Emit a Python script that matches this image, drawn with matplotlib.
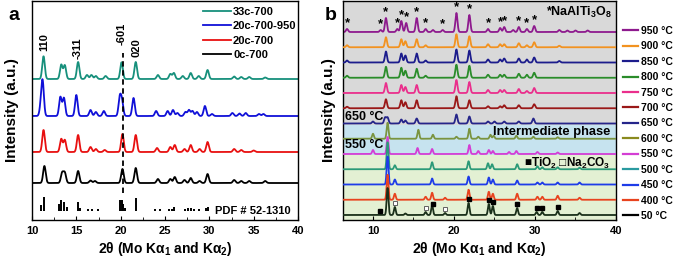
import numpy as np
import matplotlib
matplotlib.use("Agg")
import matplotlib.pyplot as plt
from matplotlib.ticker import MultipleLocator

plt.rcParams["font.family"] = ["Liberation Sans", "DejaVu Sans"]
plt.rcParams["font.weight"] = "bold"
plt.rcParams["axes.labelweight"] = "bold"
plt.rcParams["mathtext.fontset"] = "custom"
plt.rcParams["mathtext.rm"] = "Liberation Sans:bold"
plt.rcParams["mathtext.bf"] = "Liberation Sans:bold"
plt.rcParams["mathtext.it"] = "Liberation Sans:bold"
plt.rcParams["axes.linewidth"] = 1.0

# ---- panel a : peaks (2theta, height) ----
labels_a = ["33c-700", "20c-700-950", "20c-700", "0c-700"]
colors_a = ["#17907c", "#1010d8", "#e81010", "#000000"]
offsets_a = [141, 104, 68, 37]

peaks_33c = [(11.3, 22.7), (13.3, 14.3), (13.7, 13.7), (15.2, 17), (16.2, 4), (16.7, 4),
             (17.2, 3), (18.3, 3), (20.1, 16.7), (21.7, 17), (24.2, 4), (25.6, 5), (26.0, 6),
             (27.0, 3), (27.9, 6), (28.8, 3), (29.8, 9), (32.8, 2.5), (33.6, 2), (34.5, 2),
             (36.3, 1.5)]
peaks_20c950 = [(11.0, 9), (11.2, 33), (13.2, 19), (13.6, 18), (15.0, 21), (16.6, 6), (17.2, 4),
                (18.1, 5), (19.9, 18), (20.15, 14), (21.45, 18), (24.0, 5), (25.3, 5), (25.9, 6),
                (26.4, 3), (27.3, 4), (27.7, 6), (28.1, 5), (28.6, 4), (29.5, 10), (30.3, 2),
                (32.6, 3), (33.4, 2.5), (34.1, 3), (35.6, 2), (36.1, 2)]
peaks_20c = [(11.3, 22), (13.3, 13), (13.7, 12), (15.2, 17), (16.6, 5), (17.2, 3), (18.2, 2),
             (20.2, 18), (21.7, 17), (24.1, 4), (25.6, 5), (26.1, 7), (27.2, 3), (27.9, 7),
             (28.9, 3), (29.8, 10), (32.8, 3), (33.6, 2), (35.0, 1.5)]
peaks_0c = [(11.4, 17), (13.4, 10), (13.7, 10), (15.2, 12), (16.6, 2.5), (17.1, 2), (20.2, 14),
            (21.7, 15), (24.2, 4), (25.6, 4), (26.1, 6), (27.2, 3), (27.9, 5), (28.9, 2),
            (29.8, 9), (32.8, 3), (33.6, 2), (34.5, 2), (36.3, 2)]

# PDF # 52-1310 reference sticks
pdf_pos = [11.0, 11.3, 13.1, 13.3, 13.6, 13.9, 15.2, 15.4, 16.3, 16.8, 17.4, 19.9, 20.1, 20.3,
           20.5, 21.7, 23.9, 24.4, 25.5, 25.8, 26.0, 27.2, 27.6, 27.9, 28.3, 28.8, 29.6, 29.8]
pdf_hgt = [6, 14, 7, 11, 9, 4, 9, 3, 2.5, 2.5, 2.5, 11, 11, 7, 3, 13, 2.5, 2.5, 2, 2.5, 4, 2.5,
           3.5, 3.5, 2.5, 2, 3.5, 4]

hkl_text = ["110", "-311", "-601", "020"]
hkl_x = [11.4, 15.15, 20.1, 21.75]
hkl_y = [178, 172, 186, 172.5]

# ---- panel b : in-situ temperatures ----
temps_b = ["950 °C", "900 °C", "850 °C", "800 °C", "750 °C", "700 °C", "650 °C",
           "600 °C", "550 °C", "500 °C", "450 °C", "400 °C", "50 °C"]
colors_b = ["#8e1a8e", "#f29220", "#1c1c8c", "#2a8c2a", "#ea2f8c", "#9a1818", "#25258a",
            "#7a9440", "#d43ed4", "#2b9a78", "#1e3ce8", "#e8431e", "#1a301a"]
legend_colors_b = colors_b[:7] + ["#8a8a1e", "#d43ed4", "#2a9aa0", "#1e3ce8", "#e8431e", "#000000"]

p950 = [(6.8, 3), (10.95, 2), (11.6, 14), (13.0, 3), (13.5, 11), (14.1, 9), (15.4, 14), (16.5, 3),
        (17.4, 2), (18.6, 2), (20.3, 19), (21.9, 17), (24.2, 3), (25.7, 4), (26.2, 5), (27.3, 2),
        (28.0, 5), (29.0, 3), (29.9, 6), (33.0, 2), (34.0, 1.5), (35.0, 1.5), (36.5, 1.5)]
p900 = [(6.8, 2), (11.6, 10), (13.5, 8), (14.0, 6), (15.4, 8), (16.5, 2), (20.3, 13), (21.9, 11),
        (24.2, 3), (25.7, 3), (26.2, 3), (28.0, 4), (29.0, 2), (29.9, 5), (33.0, 1.5)]
p850 = [(6.8, 2), (11.6, 11), (13.5, 9), (14.0, 7), (15.4, 9), (16.5, 2), (20.3, 13), (21.9, 12),
        (24.2, 3), (25.7, 3), (26.2, 4), (28.0, 4), (29.0, 3), (29.9, 5), (33.0, 1.5)]
p800 = [(6.8, 2), (11.6, 11), (13.5, 10), (14.0, 7), (15.4, 9), (16.5, 2), (20.3, 13), (21.9, 12),
        (24.2, 3), (25.7, 3), (26.2, 3), (28.0, 4), (29.0, 3), (29.9, 5)]
p750 = [(11.6, 10), (13.5, 8), (14.0, 6), (15.4, 8), (20.3, 13), (21.9, 11), (24.2, 3), (25.7, 3),
        (26.2, 3), (28.0, 4), (29.0, 2), (29.9, 5)]
p700 = [(6.8, 1.5), (11.6, 9), (13.5, 8), (14.0, 6), (15.4, 8), (20.3, 12), (21.9, 8), (24.2, 2),
        (25.7, 2), (26.2, 3), (28.0, 3), (29.9, 4)]
p650 = [(10.0, 2), (11.5, 6), (11.8, 6), (13.5, 4), (14.0, 3), (15.4, 5), (20.3, 9), (21.9, 7),
        (24.2, 2), (25.0, 2), (26.2, 2), (28.0, 2), (29.8, 5)]
p600 = [(10.0, 5), (11.8, 16), (15.6, 9), (17.4, 4), (20.3, 2), (21.9, 10), (23.0, 2), (24.5, 4),
        (24.9, 3), (27.7, 3), (29.8, 2), (32.8, 1.5)]
p550 = [(10.0, 4), (11.8, 17), (15.5, 6), (17.3, 5), (21.9, 9), (23.0, 3), (24.3, 4), (24.8, 3),
        (26.8, 2), (27.7, 3), (30.3, 2), (32.8, 1.5)]
p500 = [(11.8, 27), (12.7, 4), (17.3, 7), (21.8, 8), (24.2, 6), (24.7, 5), (27.8, 5), (30.3, 3),
        (30.9, 2), (32.8, 2), (35.5, 1.5)]
p450 = [(11.8, 28), (12.7, 5), (17.3, 6), (21.8, 8), (24.3, 7), (24.8, 5), (27.8, 4), (30.3, 2),
        (30.9, 2), (32.8, 2), (35.5, 2)]
p400 = [(11.8, 25), (12.7, 6), (16.5, 3), (17.3, 7), (18.9, 2), (21.8, 10), (24.3, 8), (24.8, 6),
        (27.8, 6), (30.3, 3), (30.9, 3), (32.8, 4), (35.5, 2)]
p50 = [(11.8, 27), (12.7, 8), (14.0, 1.5), (16.5, 3), (17.3, 10), (18.9, 2), (21.8, 12), (24.3, 11),
       (24.8, 9), (27.8, 7), (30.2, 3), (30.9, 3), (32.8, 4), (35.5, 2)]
peaks_b = [p950, p900, p850, p800, p750, p700, p650, p600, p550, p500, p450, p400, p50]

star_x = [6.8, 10.95, 11.6, 13.0, 13.5, 14.1, 15.4, 16.5, 18.6, 20.3, 21.9, 24.2, 25.7, 26.2,
          28.0, 29.0, 29.9]
tio2_x = [10.9, 17.4, 21.8, 24.3, 24.8, 27.8, 30.2, 30.9, 32.8]
na2co3_x = [12.7, 16.5, 18.9]


def pattern(x, peaks, fwhm):
    s = fwhm / 2.3548
    y = np.zeros_like(x)
    for p, h in peaks:
        y += h * np.exp(-0.5 * ((x - p) / s) ** 2)
    return y


fig = plt.figure(figsize=(6.75, 2.66), dpi=100)
H = 266.0
ax1 = fig.add_axes([32 / 675, 1 - 220 / H, 266 / 675, 219 / H])
ax2 = fig.add_axes([343 / 675, 1 - 220 / H, 273 / 675, 219 / H])

# ---------------- panel a ----------------
xa = np.linspace(10, 40, 3000)
for lab, col, off, pk in zip(labels_a, colors_a, offsets_a,
                             [peaks_33c, peaks_20c950, peaks_20c, peaks_0c]):
    ax1.plot(xa, off + pattern(xa, pk, 0.34), color=col, lw=1.3, label=lab)

ax1.vlines(pdf_pos, 9, 9 + np.array(pdf_hgt), color="black", lw=1.4)
ax1.text(30.6, 9, "PDF # 52-1310", fontsize=8, va="center", ha="left")
ax1.plot([20.3, 20.3], [27, 167], color="black", ls="--", lw=1.3, dashes=(3, 2))
for t, x, y in zip(hkl_text, hkl_x, hkl_y):
    ax1.text(x, y, t, rotation=90, fontsize=8, ha="center", va="center")

ax1.set_xlim(10, 40)
ax1.set_ylim(0, 219)
ax1.set_yticks([])
ax1.xaxis.set_major_locator(MultipleLocator(5))
ax1.xaxis.set_minor_locator(MultipleLocator(2.5))
ax1.tick_params(axis="x", which="both", direction="in", labelsize=8, pad=4)
ax1.tick_params(axis="x", which="major", length=3)
ax1.tick_params(axis="x", which="minor", length=2)
ax1.set_xlabel(r"2$\theta$ (Mo K$\alpha_1$ and K$\alpha_2$)", fontsize=10, labelpad=3)
ax1.set_ylabel("Intensity (a.u.)", fontsize=11, labelpad=9)
ax1.legend(loc="upper left", bbox_to_anchor=(0.643, 0.972), frameon=False,
           prop={"size": 8, "weight": "bold"},
           handlelength=2.5, handletextpad=0.2, labelspacing=0.38, borderpad=0,
           borderaxespad=0)
fig.text(8 / 675, 1 - 15 / H, "a", fontsize=14, va="center", ha="left")

# ---------------- panel b ----------------
xb = np.linspace(6.3, 40, 3000)
offsets_b = [5 + 15.25 * (12 - i) for i in range(13)]
ax2.axhspan(offsets_b[6] - 1, 219, color="#d9d9d9", lw=0, zorder=0)
ax2.axhspan(offsets_b[8] - 1, offsets_b[6] - 1, color="#c6e3ef", lw=0, zorder=0)
ax2.axhspan(0, offsets_b[8] - 1, color="#e3f0d3", lw=0, zorder=0)

curves_b = []
for i, (col, off, pk) in enumerate(zip(colors_b, offsets_b, peaks_b)):
    fw = 0.3 if i < 7 else 0.26
    yb = off + pattern(xb, pk, fw)
    curves_b.append(yb)
    ax2.plot(xb, yb, color=col, lw=1.3, zorder=2 + i)

for x in star_x:
    y = np.interp(x, xb, curves_b[0])
    ax2.text(x, y - 0.5, "*", fontsize=9.5, ha="center", va="bottom", zorder=20)
for x in tio2_x:
    y = np.interp(x, xb, curves_b[12])
    ax2.plot(x, y + 4, marker="s", ms=2.6, color="black", ls="none", zorder=20)
for x in na2co3_x:
    y = np.interp(x, xb, curves_b[12])
    ax2.plot(x, y + 4, marker="s", ms=2.6, mfc="white", mec="#606060", mew=0.7,
             ls="none", zorder=20)

ax2.text(39.6, 208, "*NaAlTi$_3$O$_8$", fontsize=9, ha="right", va="center", zorder=21)
ax2.text(6.5, 103, "650 °C", fontsize=9, ha="left", va="center", zorder=21)
ax2.text(39.3, 88, "Intermediate phase", fontsize=9.3, ha="right", va="center", zorder=21)
ax2.text(6.5, 75, "550 °C", fontsize=9, ha="left", va="center", zorder=21)
ax2.text(39.3, 57, "■TiO$_2$ □Na$_2$CO$_3$", fontsize=8.5, ha="right", va="center",
         zorder=21, family=["Liberation Sans", "DejaVu Sans"])

ax2.set_xlim(6.3, 40)
ax2.set_ylim(0, 219)
ax2.set_yticks([])
ax2.xaxis.set_major_locator(MultipleLocator(10))
ax2.xaxis.set_minor_locator(MultipleLocator(5))
ax2.tick_params(axis="x", which="both", direction="in", labelsize=8, pad=4)
ax2.tick_params(axis="x", which="major", length=3)
ax2.tick_params(axis="x", which="minor", length=2)
ax2.set_xlabel(r"2$\theta$ (Mo K$\alpha_1$ and K$\alpha_2$)", fontsize=10, labelpad=3)
ax2.set_ylabel("Intensity (a.u.)", fontsize=11, labelpad=5)

handles = [plt.Line2D([], [], color=c, lw=1.6) for c in legend_colors_b]
fig.legend(handles, temps_b, loc="upper left", bbox_to_anchor=(623 / 675, 1 - 26 / H),
           frameon=False, prop={"size": 7.5, "weight": "bold"}, handlelength=1.4,
           handletextpad=0.3, labelspacing=0.52, borderpad=0, borderaxespad=0)
fig.text(325 / 675, 1 - 15 / H, "b", fontsize=14, va="center", ha="left")

fig.savefig("out.png", dpi=100)
